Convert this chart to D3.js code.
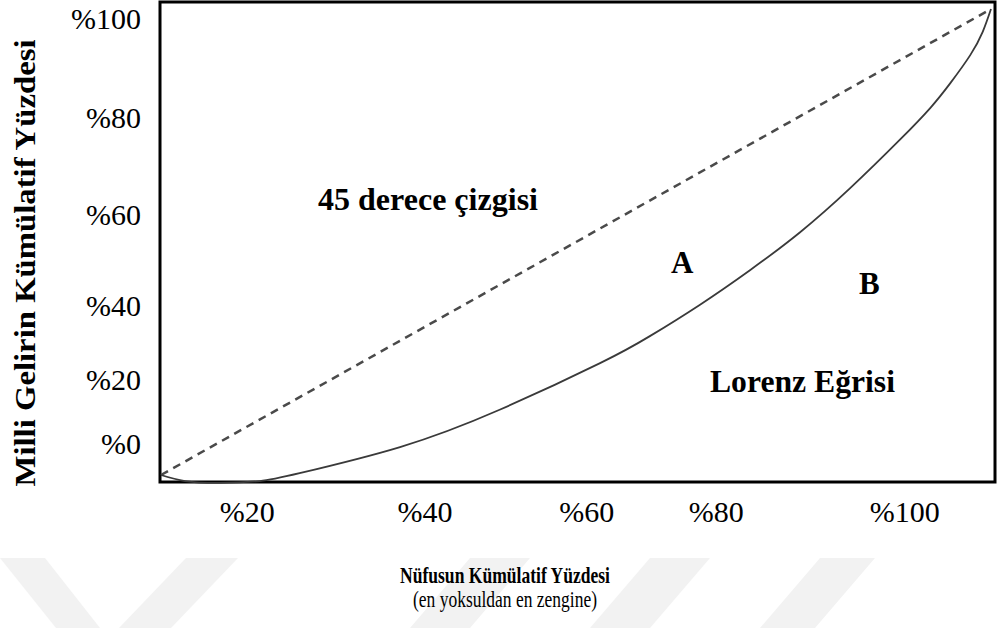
<!DOCTYPE html>
<html>
<head>
<meta charset="utf-8">
<script src="https://cdn.jsdelivr.net/npm/d3@7"></script>
<style>
  body { margin: 0; background: #fff; }
  text { font-family: "Liberation Serif", "Times New Roman", serif; fill: #000; }
</style>
</head>
<body>
<div id="chart-area"></div>
<script>
// population share (x) vs income share (y)
let lorenzX = [0, 2.9, 7.1, 11.9, 16.7, 28.8, 40.8, 52.9, 58.9, 64.9, 71.0, 77.0, 83.0, 89.0, 92.7, 95.1, 97.5, 99.0, 100];
let lorenzY = [0, -1.3, -1.7, -1.3, 0.4, 6.0, 14.0, 24.0, 29.8, 36.5, 44.0, 52.1, 61.5, 71.9, 78.8, 84.1, 90.1, 95.1, 100];

let equalityX = [0, 100];
let equalityY = [0, 100];

// tick labels and where they sit on the (hand drawn) axes
let xTickLabels = ["%20", "%40", "%60", "%80", "%100"];
let xTickAt = [10.4, 31.8, 51.3, 66.9, 89.6];
let yTickLabels = ["%100", "%80", "%60", "%40", "%20", "%0"];
let yTickAt = [97.9, 76.6, 55.8, 36.3, 20.4, 6.7];

// SVG drawing area
let W = 1003, H = 628;
let margin = {top: 9, right: 12, bottom: 153, left: 161};
let width = W - margin.left - margin.right,
    height = H - margin.top - margin.bottom;

let root = d3.select("#chart-area").append("svg")
    .attr("width", W)
    .attr("height", H);

// faint watermark bands at the bottom
let bands = [[0, 45, 100, 56], [186, 238, 171, 119], [470, 530, 470, 410], [650, 710, 650, 590], [820, 875, 815, 760]];
root.append("g").selectAll("polygon")
    .data(bands)
    .enter().append("polygon")
    .attr("points", d => d[0] + ",558 " + d[1] + ",558 " + d[2] + ",628 " + d[3] + ",628")
    .attr("fill", "#f2f2f2");

let svg = root.append("g")
    .attr("transform", "translate(" + margin.left + "," + margin.top + ")");

// Scales
let x = d3.scaleLinear().domain([0, 100]).range([0, width]);
let y = d3.scaleLinear().domain([0, 100]).range([height, 0]);

// frame
svg.append("rect")
    .attr("x", -1)
    .attr("y", -7)
    .attr("width", width + 5)
    .attr("height", height + 14)
    .attr("fill", "none")
    .attr("stroke", "#000")
    .attr("stroke-width", 3);

// 45 degree line
let eq = equalityX.map((v, i) => [v, equalityY[i]]);
svg.append("path")
    .datum(eq)
    .attr("d", d3.line().x(d => x(d[0])).y(d => y(d[1])))
    .attr("fill", "none")
    .attr("stroke", "#4a4a4a")
    .attr("stroke-width", 2.5)
    .attr("stroke-dasharray", "8,6");

// lorenz curve
let lz = lorenzX.map((v, i) => [v, lorenzY[i]]);
svg.append("path")
    .datum(lz)
    .attr("d", d3.line().curve(d3.curveNatural).x(d => x(d[0])).y(d => y(d[1])))
    .attr("fill", "none")
    .attr("stroke", "#3a3a3a")
    .attr("stroke-width", 1.8);

// tick labels
svg.append("g").selectAll("text")
    .data(xTickLabels)
    .enter().append("text")
    .attr("x", (d, i) => x(xTickAt[i]))
    .attr("y", height + 47)
    .attr("text-anchor", "middle")
    .style("font-size", "30px")
    .text(d => d);

svg.append("g").selectAll("text")
    .data(yTickLabels)
    .enter().append("text")
    .attr("x", -20)
    .attr("y", (d, i) => y(yTickAt[i]) + 10)
    .attr("text-anchor", "end")
    .style("font-size", "30px")
    .text(d => d);

// annotations
let notes = [
    {t: "45 derece çizgisi", x: 318, y: 210, len: 220},
    {t: "A", x: 671, y: 273, len: null},
    {t: "B", x: 859, y: 294, len: null},
    {t: "Lorenz Eğrisi", x: 710, y: 392, len: 185}
];
let nt = root.append("g").selectAll("text")
    .data(notes)
    .enter().append("text")
    .attr("x", d => d.x)
    .attr("y", d => d.y)
    .style("font-size", "31px")
    .style("font-weight", "bold")
    .text(d => d.t);
nt.filter(d => d.len)
    .attr("textLength", d => d.len)
    .attr("lengthAdjust", "spacingAndGlyphs");

// axis titles
root.append("text")
    .attr("transform", "translate(35,263)rotate(-90)")
    .attr("text-anchor", "middle")
    .attr("textLength", 447)
    .attr("lengthAdjust", "spacingAndGlyphs")
    .style("font-size", "30px")
    .style("font-weight", "bold")
    .text("Milli Gelirin Kümülatif Yüzdesi");

root.append("text")
    .attr("x", 505)
    .attr("y", 583)
    .attr("text-anchor", "middle")
    .attr("textLength", 210)
    .attr("lengthAdjust", "spacingAndGlyphs")
    .style("font-size", "23px")
    .style("font-weight", "bold")
    .text("Nüfusun Kümülatif Yüzdesi");

root.append("text")
    .attr("x", 505)
    .attr("y", 607)
    .attr("text-anchor", "middle")
    .attr("textLength", 184)
    .attr("lengthAdjust", "spacingAndGlyphs")
    .style("font-size", "23px")
    .text("(en yoksuldan en zengine)");
</script>
</body>
</html>
